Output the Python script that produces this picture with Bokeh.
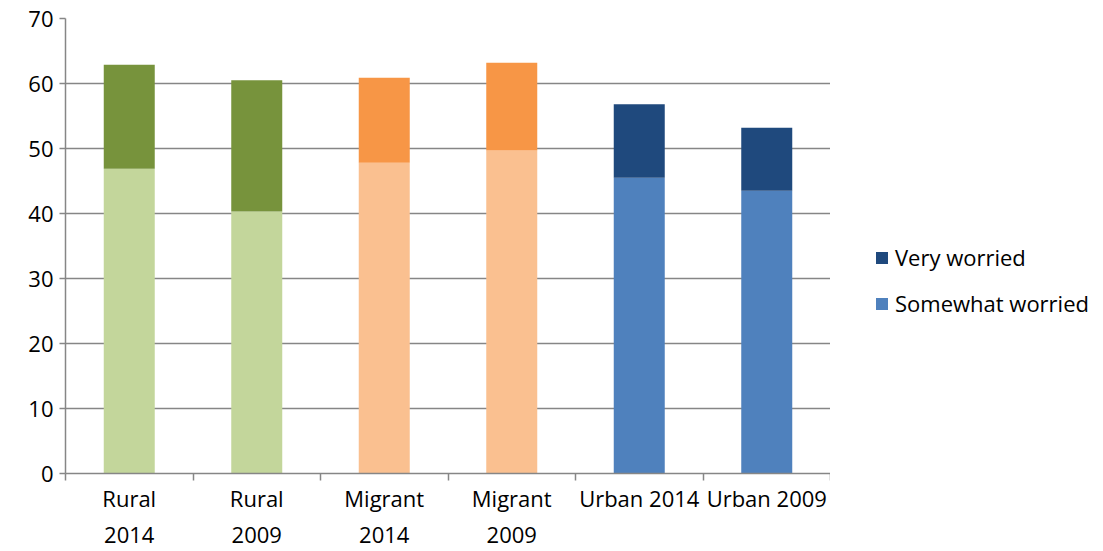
from bokeh.plotting import figure
from bokeh.layouts import row
from bokeh.models import ColumnDataSource, Range1d, FixedTicker, Legend, LegendItem
from bokeh.embed import file_html
from bokeh.resources import INLINE

categories = ["Rural\n2014", "Rural\n2009", "Migrant\n2014", "Migrant\n2009", "Urban 2014", "Urban 2009"]
somewhat_worried = [46.9, 40.3, 47.8, 49.7, 45.5, 43.5]
very_worried_total = [62.9, 60.5, 60.9, 63.2, 56.8, 53.2]
very_worried = [round(t - s, 1) for t, s in zip(very_worried_total, somewhat_worried)]
light_colors = ["#C3D69B", "#C3D69B", "#FAC090", "#FAC090", "#4F81BD", "#4F81BD"]
dark_colors = ["#77933C", "#77933C", "#F79646", "#F79646", "#1F497D", "#1F497D"]
y_ticks = [0, 10, 20, 30, 40, 50, 60, 70]
legend_labels = ["Very worried", "Somewhat worried"]
legend_colors = ["#1F497D", "#4F81BD"]

xs = [i + 0.5 for i in range(len(categories))]
src = ColumnDataSource(dict(
    x=xs,
    s=somewhat_worried,
    top=[s + v for s, v in zip(somewhat_worried, very_worried)],
    light=light_colors,
    dark=dark_colors,
))

FONT = "Open Sans"
H = 551
p = figure(width=830, height=H, output_backend="svg", toolbar_location=None,
           x_range=Range1d(0, len(categories)), y_range=Range1d(0, 70),
           min_border_left=65, min_border_top=18, min_border_bottom=H - 473, min_border_right=0)
p.outline_line_color = None

p.vbar(x="x", bottom=0, top="s", width=0.4, fill_color="light", line_color=None, source=src)
p.vbar(x="x", bottom="s", top="top", width=0.4, fill_color="dark", line_color=None, source=src)

p.xgrid.grid_line_color = None
p.ygrid.grid_line_color = "#868686"
p.ygrid.grid_line_width = 1.5
p.ygrid.ticker = FixedTicker(ticks=y_ticks)

p.yaxis.ticker = FixedTicker(ticks=y_ticks)
p.yaxis.axis_line_color = "#868686"
p.yaxis.axis_line_width = 1.5
p.yaxis.major_tick_line_color = "#868686"
p.yaxis.major_tick_line_width = 1.5
p.yaxis.major_tick_in = 0
p.yaxis.major_tick_out = 6
p.yaxis.minor_tick_line_color = None
p.yaxis.major_label_text_font = FONT
p.yaxis.major_label_text_font_size = "22px"
p.yaxis.major_label_text_color = "#000000"
p.yaxis.major_label_standoff = 6

p.xaxis.ticker = FixedTicker(ticks=xs, minor_ticks=list(range(len(categories) + 1)))
p.xaxis.major_label_overrides = {x: c for x, c in zip(xs, categories)}
p.xaxis.axis_line_color = "#868686"
p.xaxis.axis_line_width = 1.5
p.xaxis.major_tick_line_color = None
p.xaxis.minor_tick_line_color = "#868686"
p.xaxis.minor_tick_line_width = 1.5
p.xaxis.minor_tick_in = 0
p.xaxis.minor_tick_out = 7
p.xaxis.major_label_text_font = FONT
p.xaxis.major_label_text_font_size = "22px"
p.xaxis.major_label_text_color = "#000000"
p.xaxis.major_label_standoff = 2

# legend panel
q = figure(width=270, height=H, output_backend="svg", toolbar_location=None,
           x_range=Range1d(0, 1), y_range=Range1d(0, 1),
           min_border=0)
q.outline_line_color = None
q.axis.visible = False
q.grid.visible = False
items = []
for lab, col in zip(legend_labels, legend_colors):
    r = q.rect(x=[5], y=[5], width=0.1, height=0.1, fill_color=col, line_color=None)
    items.append(LegendItem(label=lab, renderers=[r]))
legend = Legend(items=items, location=(44, 155))
legend.label_text_font = FONT
legend.label_text_font_size = "22px"
legend.label_text_color = "#000000"
legend.glyph_width = 15
legend.glyph_height = 15
legend.spacing = 16
legend.label_standoff = 6
legend.border_line_color = None
legend.background_fill_alpha = 0
legend.margin = 0
legend.padding = 0
q.add_layout(legend, "center")

open("out.html", "w").write(file_html(row(p, q), INLINE))
